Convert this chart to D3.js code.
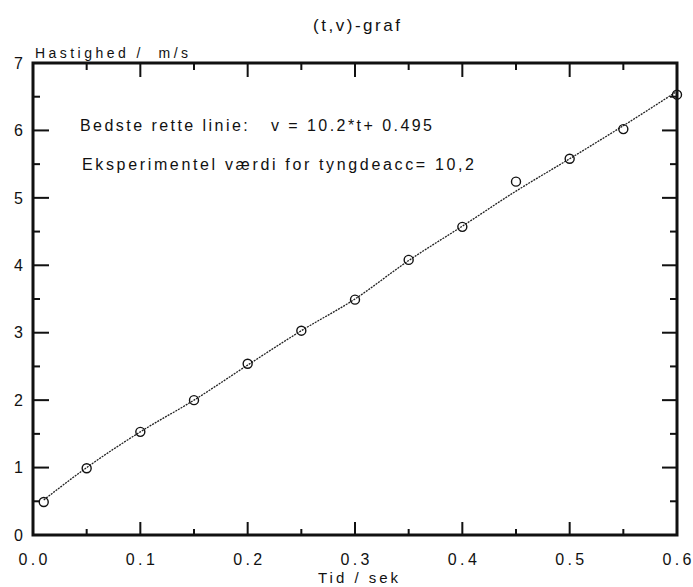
<!DOCTYPE html>
<html>
<head>
<meta charset="utf-8">
<script src="https://cdn.jsdelivr.net/npm/d3@7"></script>
<style>
  body { margin: 0; background: #fff; }
  text { font-family: "Liberation Sans", Arial, sans-serif; fill: #111; }
</style>
</head>
<body>
<div id="chart-area"></div>
<script>
// measured points (t in s, v in m/s)
const tValues = [0.01, 0.05, 0.10, 0.15, 0.20, 0.25, 0.30, 0.35, 0.40, 0.45, 0.50, 0.55, 0.60]
const vValues = [0.49, 0.99, 1.53, 2.00, 2.54, 3.03, 3.49, 4.08, 4.57, 5.24, 5.58, 6.02, 6.53]

// smoothed curve drawn through the points
const curveT = [0.01, 0.05, 0.10, 0.15, 0.20, 0.25, 0.30, 0.35, 0.40, 0.45, 0.50, 0.55, 0.60]
const curveV = [0.52, 1.00, 1.53, 2.00, 2.52, 3.03, 3.50, 4.07, 4.58, 5.10, 5.58, 6.07, 6.58]

const xTickLabels = ["0.0", "0.1", "0.2", "0.3", "0.4", "0.5", "0.6"]
const yTickLabels = ["0", "1", "2", "3", "4", "5", "6", "7"]

const MARGIN = { LEFT: 33, RIGHT: 16, TOP: 63, BOTTOM: 52 }
const W = 693, H = 587
const WIDTH = W - MARGIN.LEFT - MARGIN.RIGHT
const HEIGHT = H - MARGIN.TOP - MARGIN.BOTTOM

const svg = d3.select("#chart-area").append("svg")
  .attr("width", W)
  .attr("height", H)

const g = svg.append("g")
  .attr("transform", `translate(${MARGIN.LEFT}, ${MARGIN.TOP})`)

const x = d3.scaleLinear().domain([0, 0.6]).range([0, WIDTH])
const y = d3.scaleLinear().domain([0, 7]).range([HEIGHT, 0])

// frame
g.append("rect")
  .attr("x", 0).attr("y", 0)
  .attr("width", WIDTH).attr("height", HEIGHT)
  .attr("fill", "none")
  .attr("stroke", "#111")
  .attr("stroke-width", 3)

// tick labels
g.selectAll(".xlab")
  .data(xTickLabels)
  .enter().append("text")
  .attr("class", "xlab")
  .attr("x", d => x(+d))
  .attr("y", HEIGHT + 30)
  .attr("text-anchor", "middle")
  .attr("textLength", 29)
  .attr("lengthAdjust", "spacing")
  .style("font-size", "16px")
  .text(d => d)

g.selectAll(".ylab")
  .data(yTickLabels)
  .enter().append("text")
  .attr("class", "ylab")
  .attr("x", -10)
  .attr("y", d => y(+d))
  .attr("dy", "0.36em")
  .attr("text-anchor", "end")
  .style("font-size", "16px")
  .text(d => d)

// title + axis labels
svg.append("text")
  .attr("x", 313)
  .attr("y", 31)
  .attr("textLength", 87)
  .attr("lengthAdjust", "spacing")
  .style("font-size", "17px")
  .text("(t,v)-graf")

svg.append("text")
  .attr("x", 35)
  .attr("y", 58)
  .attr("textLength", 153)
  .attr("lengthAdjust", "spacing")
  .style("font-size", "14px")
  .style("white-space", "pre")
  .text("Hastighed /  m/s")

svg.append("text")
  .attr("x", 318)
  .attr("y", 583)
  .attr("textLength", 80)
  .attr("lengthAdjust", "spacing")
  .style("font-size", "15px")
  .text("Tid / sek")

// annotations
svg.append("text")
  .attr("x", 80)
  .attr("y", 131)
  .style("font-size", "16px")
  .style("white-space", "pre")
  .attr("textLength", 352)
  .attr("lengthAdjust", "spacing")
  .text("Bedste rette linie:   v = 10.2*t+ 0.495")

svg.append("text")
  .attr("x", 82)
  .attr("y", 170)
  .style("font-size", "16px")
  .attr("textLength", 392)
  .attr("lengthAdjust", "spacing")
  .text("Eksperimentel værdi for tyngdeacc= 10,2")

// curve
const curveData = curveT.map((t, i) => ({ t: t, v: curveV[i] }))
const line = d3.line()
  .x(d => x(d.t))
  .y(d => y(d.v))
  .curve(d3.curveMonotoneX)

g.append("path")
  .datum(curveData)
  .attr("d", line)
  .attr("fill", "none")
  .attr("stroke", "#222")
  .attr("stroke-width", 1.3)
  .attr("stroke-dasharray", "2,1")

// points
const points = tValues.map((t, i) => ({ t: t, v: vValues[i] }))
g.selectAll("circle")
  .data(points)
  .enter().append("circle")
  .attr("cx", d => x(d.t))
  .attr("cy", d => y(d.v))
  .attr("r", 4.5)
  .attr("fill", "none")
  .attr("stroke", "#111")
  .attr("stroke-width", 1.4)

// ticks inside the frame as small filled bars, every 0.05 / 0.5,
// long ones on the labelled values (drawn last so nothing covers them)
const xTickVals = d3.range(0, 13).map(i => i * 0.05)
const yTickVals = d3.range(0, 15).map(i => i * 0.5)
const tickG = svg.append("g")
  .attr("transform", `translate(${MARGIN.LEFT}, ${MARGIN.TOP})`)

tickG.selectAll(".tkb").data(xTickVals).enter().append("rect")
  .attr("class", "tkb")
  .attr("x", d => x(d) - 1).attr("width", 2)
  .attr("y", (d, i) => HEIGHT - (i % 2 ? 6 : 13)).attr("height", (d, i) => (i % 2 ? 6 : 13))
  .attr("fill", "#111")
tickG.selectAll(".tkt").data(xTickVals).enter().append("rect")
  .attr("class", "tkt")
  .attr("x", d => x(d) - 1).attr("width", 2)
  .attr("y", 0).attr("height", (d, i) => (i % 2 ? 7 : 14))
  .attr("fill", "#111")
tickG.selectAll(".tkl").data(yTickVals).enter().append("rect")
  .attr("class", "tkl")
  .attr("y", d => y(d) - 1).attr("height", 2)
  .attr("x", 0).attr("width", (d, i) => (i % 2 ? 7 : 16))
  .attr("fill", "#111")
tickG.selectAll(".tkr").data(yTickVals).enter().append("rect")
  .attr("class", "tkr")
  .attr("y", d => y(d) - 1).attr("height", 2)
  .attr("x", (d, i) => WIDTH - (i % 2 ? 7 : 15)).attr("width", (d, i) => (i % 2 ? 7 : 15))
  .attr("fill", "#111")
</script>
</body>
</html>
